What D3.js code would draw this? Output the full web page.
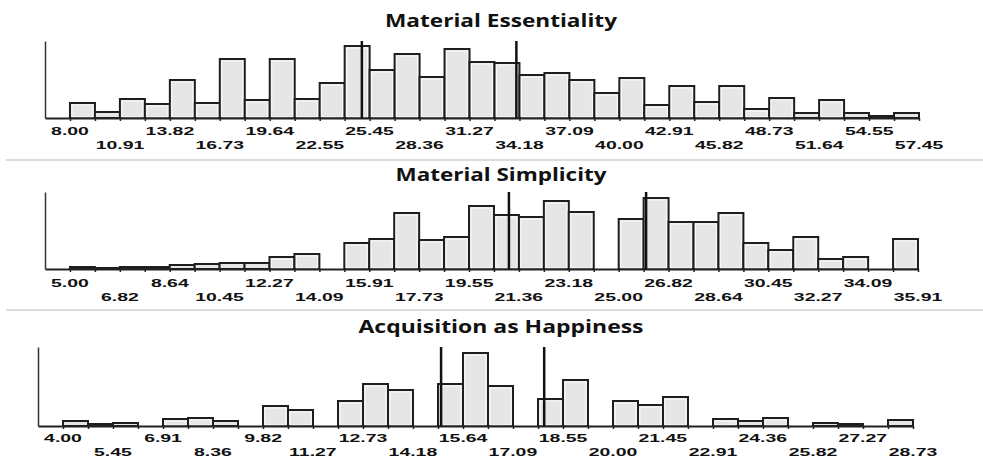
<!DOCTYPE html>
<html>
<head>
<meta charset="utf-8">
<script src="https://cdn.jsdelivr.net/npm/d3@7"></script>
<style>
    body { margin: 0; background: #fff; }
    svg { display: block; }
</style>
</head>
<body>
<div class="chart-container"></div>
<script>
// histogram frequencies, 34 bins per scale
const essentialityCounts = [15, 6, 19, 14, 38, 15, 59, 18, 59, 19, 35, 72, 48, 64, 41, 69, 56, 55,
    43, 45, 38, 25, 40, 13, 32, 16, 32, 9, 20, 5, 18, 5, 2, 5]
const simplicityCounts = [2, 1, 2, 2, 4, 5, 6, 6, 12, 15, 0, 26, 30, 56, 29, 32, 63, 54,
    52, 68, 57, 0, 50, 71, 47, 47, 56, 26, 19, 32, 10, 12, 0, 30]
const happinessCounts = [5, 2, 3, 0, 7, 8, 5, 0, 20, 16, 0, 25, 42, 36, 0, 42, 73, 40,
    0, 27, 46, 0, 25, 21, 29, 0, 7, 5, 8, 0, 3, 2, 0, 6]

const essentialityTicks = ['8.00', '10.91', '13.82', '16.73', '19.64', '22.55', '25.45', '28.36', '31.27',
    '34.18', '37.09', '40.00', '42.91', '45.82', '48.73', '51.64', '54.55', '57.45']
const simplicityTicks = ['5.00', '6.82', '8.64', '10.45', '12.27', '14.09', '15.91', '17.73', '19.55',
    '21.36', '23.18', '25.00', '26.82', '28.64', '30.45', '32.27', '34.09', '35.91']
const happinessTicks = ['4.00', '5.45', '6.91', '8.36', '9.82', '11.27', '12.73', '14.18', '15.64',
    '17.09', '18.55', '20.00', '21.45', '22.91', '24.36', '25.82', '27.27', '28.73']

// vertical reference lines
const essentialityMarks = [25.0, 34.0]
const simplicityMarks = [21.0, 26.0]
const happinessMarks = [15.0, 18.0]

const titles = ['Material Essentiality', 'Material Simplicity', 'Acquisition as Happiness']

const width = 983
const height = 459
const N_BINS = 34

const panels = [
    { title: titles[0], counts: essentialityCounts, ticks: essentialityTicks, marks: essentialityMarks,
        left: 45, right: 919, base: 118, top: 41, titleY: 27, titleW: 232, row1: 17, row2: 31 },
    { title: titles[1], counts: simplicityCounts, ticks: simplicityTicks, marks: simplicityMarks,
        left: 45, right: 918, base: 269, top: 192, titleY: 181, titleW: 211, row1: 17.5, row2: 31.5 },
    { title: titles[2], counts: happinessCounts, ticks: happinessTicks, marks: happinessMarks,
        left: 38, right: 913, base: 426, top: 347, titleY: 333, titleW: 285, row1: 15.5, row2: 30 }
]

const svg = d3
    .select('.chart-container')
    .append('svg')
    .attr('width', width)
    .attr('height', height)

// light separators between the panels
svg.selectAll('line.sep')
    .data([160, 310])
    .enter()
    .append('line')
    .attr('class', 'sep')
    .attr('x1', 6)
    .attr('x2', width)
    .attr('y1', d => d)
    .attr('y2', d => d)
    .attr('stroke', '#dcdcdc')
    .attr('stroke-width', 2)

panels.forEach(drawPanel)

function drawPanel(p) {
    const start = +p.ticks[0]
    const binW = (+p.ticks[p.ticks.length - 1] - start) / N_BINS
    const edges = d3.range(N_BINS + 1).map(i => start + i * binW)

    const x = d3
        .scaleLinear()
        .domain([start - binW, edges[N_BINS]])
        .range([p.left, p.right])
    const y = d3
        .scaleLinear()
        .domain([0, p.base - p.top])
        .range([p.base, p.top])

    const g = svg.append('g')

    g.append('text')
        .attr('x', 501)
        .attr('y', p.titleY)
        .attr('text-anchor', 'middle')
        .attr('textLength', p.titleW)
        .attr('lengthAdjust', 'spacingAndGlyphs')
        .style('font-family', '"Open Sans", sans-serif')
        .style('font-weight', 'bold')
        .style('font-size', '17px')
        .style('fill', '#111')
        .text(p.title)

    const bins = p.counts
        .map((v, i) => ({ v: v, x0: edges[i], x1: edges[i + 1] }))
        .filter(d => d.v > 0)

    const bar = g.selectAll('g.bar')
        .data(bins)
        .enter()
        .append('g')
        .attr('class', 'bar')

    bar.append('rect')
        .attr('x', d => x(d.x0))
        .attr('y', d => y(d.v))
        .attr('width', d => x(d.x1) - x(d.x0))
        .attr('height', d => y(0) - y(d.v))
        .attr('fill', '#e6e6e6')
        .attr('stroke', '#1e1e1e')
        .attr('stroke-width', 2)

    // faint white inner edge like the original rendering
    bar.filter(d => y(0) - y(d.v) > 6)
        .append('rect')
        .attr('x', d => x(d.x0) + 2)
        .attr('y', d => y(d.v) + 2)
        .attr('width', d => x(d.x1) - x(d.x0) - 4)
        .attr('height', d => y(0) - y(d.v) - 3)
        .attr('fill', 'none')
        .attr('stroke', '#fafafa')
        .attr('stroke-width', 1)

    const xAxis = g.append('g')
        .attr('transform', `translate(0,${p.base})`)
        .call(d3.axisBottom(x).tickValues(edges).tickFormat('').tickSizeInner(3).tickSizeOuter(0))
    xAxis.select('.domain').attr('stroke', '#222').attr('stroke-width', 2)
    xAxis.selectAll('.tick line').attr('stroke', '#222').attr('stroke-width', 1.5)

    const yAxis = g.append('g')
        .attr('transform', `translate(${p.left},0)`)
        .call(d3.axisLeft(y).tickValues([]).tickSizeOuter(0))
    yAxis.select('.domain').attr('stroke', '#333').attr('stroke-width', 1.5)

    g.selectAll('line.mark')
        .data(p.marks)
        .enter()
        .append('line')
        .attr('class', 'mark')
        .attr('x1', d => x(d))
        .attr('x2', d => x(d))
        .attr('y1', y(p.base - p.top))
        .attr('y2', p.base)
        .attr('stroke', '#111')
        .attr('stroke-width', 2.5)

    // labels alternate between two rows
    g.selectAll('text.tick-label')
        .data(p.ticks)
        .enter()
        .append('text')
        .attr('class', 'tick-label')
        .attr('transform', (d, i) =>
            `translate(${x(+d)},${p.base + (i % 2 ? p.row2 : p.row1)}) scale(1.85,1)`)
        .attr('text-anchor', 'middle')
        .style('font-family', '"Liberation Sans", Arial, sans-serif')
        .style('font-size', '10.5px')
        .style('font-weight', 'bold')
        .style('fill', '#111')
        .text(d => d)
}
</script>
</body>
</html>
